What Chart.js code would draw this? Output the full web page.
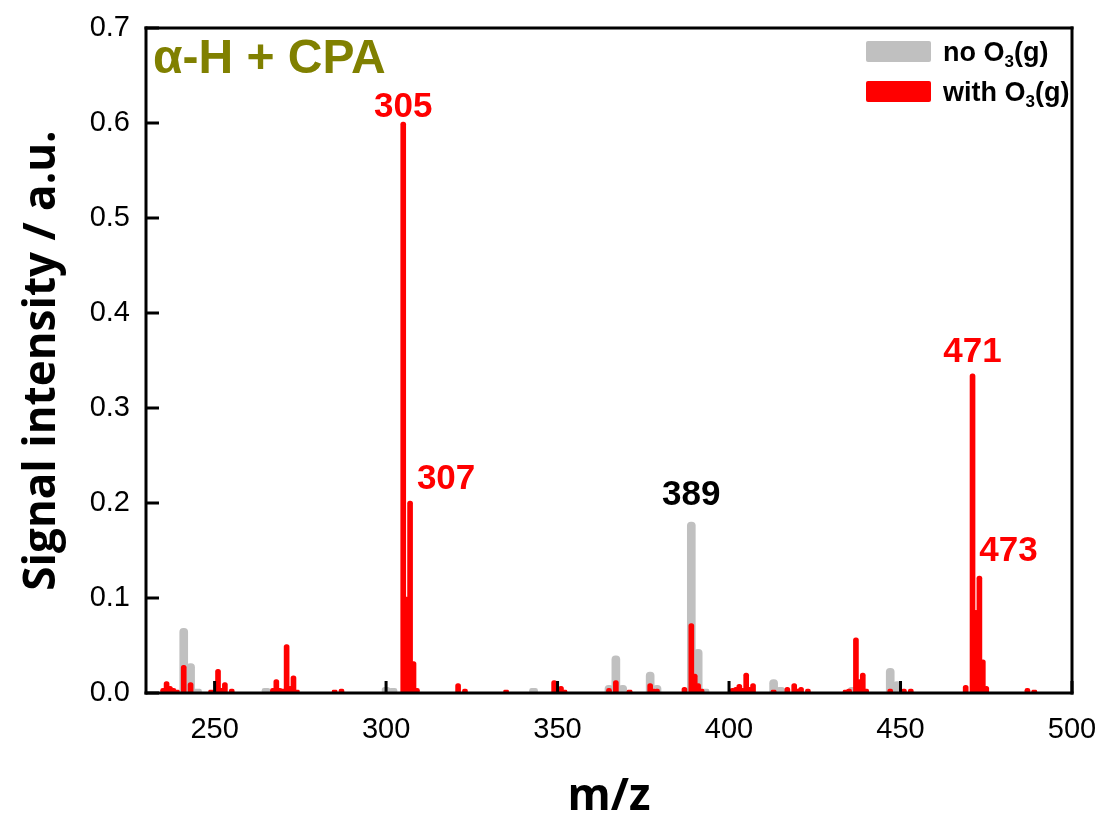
<!DOCTYPE html>
<html>
<head>
<meta charset="utf-8">
<script src="https://cdn.jsdelivr.net/npm/chart.js@4.4.0/dist/chart.umd.min.js"></script>
<style>body{margin:0;background:#fff}</style>
</head>
<body>
<canvas id="spectrum" width="1100" height="824"></canvas>
<script>
// spectrum without ozone (grey)
const mzNoO3  = [241, 243, 245, 265, 300, 302, 343, 365, 367, 369, 377, 379, 389, 391, 393, 413, 415, 436, 447, 449];
const intNoO3 = [0.068, 0.031, 0.004, 0.005, 0.006, 0.005, 0.005, 0.008, 0.039, 0.008, 0.022, 0.008, 0.180, 0.046, 0.004, 0.014, 0.006, 0.006, 0.026, 0.012];

// spectrum with ozone (red)
const mzWithO3 = [235, 236, 237, 238, 239, 241, 243, 249, 251, 252, 253, 255,
  267, 268, 269, 270, 271, 272, 273, 274, 285, 287,
  305, 306, 307, 308, 309, 321, 323, 335, 349, 351, 352,
  365, 367, 371, 377, 378, 379, 387, 389, 390, 391, 392,
  401, 402, 403, 404, 405, 406, 407, 413, 417, 419, 420, 421, 423,
  434, 435, 437, 438, 439, 440, 447, 451, 453,
  469, 471, 472, 473, 474, 475, 487, 489];
const intWithO3 = [0.005, 0.012, 0.007, 0.005, 0.003, 0.029, 0.011, 0.003, 0.025, 0.005, 0.011, 0.004,
  0.005, 0.014, 0.005, 0.004, 0.051, 0.007, 0.018, 0.003, 0.003, 0.004,
  0.601, 0.101, 0.202, 0.033, 0.005, 0.010, 0.004, 0.003, 0.013, 0.007, 0.003,
  0.005, 0.013, 0.003, 0.010, 0.004, 0.004, 0.006, 0.073, 0.020, 0.010, 0.004,
  0.005, 0.006, 0.009, 0.005, 0.021, 0.006, 0.010, 0.003, 0.006, 0.010, 0.004, 0.006, 0.004,
  0.003, 0.004, 0.058, 0.014, 0.021, 0.004, 0.004, 0.004, 0.004,
  0.008, 0.336, 0.087, 0.123, 0.035, 0.007, 0.005, 0.003];

const xTicks = [250, 300, 350, 400, 450, 500];
const yTicks = [0, 0.1, 0.2, 0.3, 0.4, 0.5, 0.6, 0.7];

const peakMz   = [305, 307, 389, 471, 473];
const peakText = ['305', '307', '389', '471', '473'];

const labelNoO3 = 'no O₃(g)';
const labelWithO3 = 'with O₃(g)';
const chartTitle = 'α-H + CPA';

const GREY = '#c0c0c0';
const RED = '#ff0000';
const peakColor = [RED, RED, '#000', RED, RED];
const peakDx = [0, 36, 0, 0, 29];
const peakDy = [18, 25, 30, 24, 28];

function toPoints(xs, ys) {
  return xs.map((x, i) => ({ x: x, y: ys[i] }));
}
function valueAt(xs, ys, mz) {
  const i = xs.indexOf(mz);
  return i < 0 ? 0 : ys[i];
}

// draws "text" with the ₃ as a real lowered subscript
function drawSubText(ctx, str, x, y, size) {
  const parts = str.split('₃');
  ctx.font = 'bold ' + size + 'px "Liberation Sans", Arial';
  ctx.fillText(parts[0], x, y);
  x += ctx.measureText(parts[0]).width;
  if (parts.length > 1) {
    ctx.font = 'bold ' + Math.round(size * 0.62) + 'px "Liberation Sans", Arial';
    ctx.fillText('3', x, y + size * 0.22);
    x += ctx.measureText('3').width;
    ctx.font = 'bold ' + size + 'px "Liberation Sans", Arial';
    ctx.fillText(parts[1], x, y);
  }
}

const decorations = {
  id: 'decorations',
  afterDraw(chart) {
    const ctx = chart.ctx;
    const xs = chart.scales.x, ys = chart.scales.y;
    const left = xs.getPixelForValue(xs.min);
    const right = xs.getPixelForValue(xs.max);
    const top = ys.getPixelForValue(ys.max);
    const bottom = ys.getPixelForValue(ys.min);
    ctx.save();
    ctx.strokeStyle = '#000000';
    ctx.fillStyle = '#000000';
    ctx.lineWidth = 3;

    // inward tick marks
    xTicks.forEach(v => {
      const px = xs.getPixelForValue(v);
      ctx.fillRect(px - 1.5, bottom - 12, 3, 12);
    });
    yTicks.forEach(v => {
      const py = ys.getPixelForValue(v);
      ctx.fillRect(left, py - 1.5, 13, 3);
    });

    // frame
    ctx.fillRect(left - 1.5, top - 1.5, right - left + 3, 3);
    ctx.fillRect(left - 1.5, bottom - 1.5, right - left + 3, 3);
    ctx.fillRect(left - 1.5, top - 1.5, 3, bottom - top + 3);
    ctx.fillRect(right - 1.5, top - 1.5, 3, bottom - top + 3);

    // peak labels
    ctx.font = 'bold 35px "Liberation Sans", Arial';
    ctx.textAlign = 'center';
    ctx.textBaseline = 'alphabetic';
    peakMz.forEach((mz, i) => {
      const v = Math.max(valueAt(mzNoO3, intNoO3, mz), valueAt(mzWithO3, intWithO3, mz));
      const px = xs.getPixelForValue(mz) + peakDx[i];
      const py = ys.getPixelForValue(v) - peakDy[i] + 12.5;
      ctx.fillStyle = peakColor[i];
      ctx.fillText(peakText[i], px, py);
    });

    // title inside plot
    ctx.textAlign = 'left';
    ctx.fillStyle = '#808000';
    ctx.font = 'bold 48px "Liberation Sans", Arial';
    ctx.fillText(chartTitle, left + 7, top + 45);

    // legend
    chart.data.datasets.forEach((ds, i) => {
      const boxTop = top + 13 + i * 40;
      ctx.fillStyle = ds.backgroundColor;
      ctx.beginPath();
      ctx.roundRect(866, boxTop, 65, 21, 2);
      ctx.fill();
      ctx.fillStyle = '#000';
      drawSubText(ctx, ds.label, 943, boxTop + 20, 27);
    });

    ctx.restore();
  }
};

const ctx1 = document.getElementById('spectrum');
const spectrum = new Chart(ctx1, {
  type: 'bar',
  data: {
    datasets: [{
      label: labelNoO3,
      data: toPoints(mzNoO3, intNoO3),
      backgroundColor: GREY,
      barThickness: 8,
      borderRadius: 4,
      grouped: false,
      order: 2
    }, {
      label: labelWithO3,
      data: toPoints(mzWithO3, intWithO3),
      backgroundColor: RED,
      barThickness: 5,
      borderRadius: 2.5,
      grouped: false,
      order: 1
    }]
  },
  options: {
    responsive: false,
    animation: false,
    layout: { padding: { top: 28, right: 28, left: 0, bottom: 0 } },
    plugins: {
      legend: { display: false },
      tooltip: { enabled: false }
    },
    scales: {
      x: {
        type: 'linear',
        min: 230,
        max: 500,
        offset: false,
        grid: { display: false, drawTicks: false },
        border: { display: false },
        afterBuildTicks(s) { s.ticks = xTicks.map(v => ({ value: v })); },
        afterFit(s) { s.height = 131; s.paddingLeft = 0; s.paddingRight = 0; },
        ticks: {
          color: '#000',
          padding: 20,
          maxRotation: 0,
          font: { family: '"Liberation Sans", Arial', size: 29 }
        },
        title: {
          display: true,
          text: 'm/z',
          color: '#000',
          padding: { top: 0, bottom: 0 },
          font: { family: '"Open Sans"', size: 44, weight: 'bold' }
        }
      },
      y: {
        min: 0,
        max: 0.7,
        grid: { display: false, drawTicks: false },
        border: { display: false },
        afterBuildTicks(s) { s.ticks = yTicks.map(v => ({ value: v })); },
        afterFit(s) { s.width = 146; s.paddingTop = 0; s.paddingBottom = 0; },
        ticks: {
          color: '#000',
          padding: 16,
          callback: v => v.toFixed(1),
          font: { family: '"Liberation Sans", Arial', size: 29 }
        },
        title: {
          display: true,
          text: 'Signal intensity / a.u.',
          color: '#000',
          padding: { top: 16, bottom: 0 },
          font: { family: '"Open Sans"', size: 44, weight: 'bold' }
        }
      }
    }
  },
  plugins: [decorations]
});
</script>
</body>
</html>
